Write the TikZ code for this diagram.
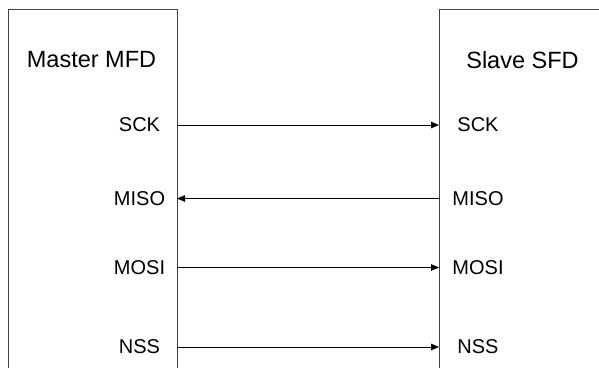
\documentclass[tikz,border=0pt]{standalone}
\usepackage{fontspec}
\setmainfont{Liberation Sans}
\usetikzlibrary{arrows.meta}

\begin{document}
\begin{tikzpicture}[x=1pt,y=-1pt]
\tikzset{
  devbox/.style={draw=black!75,line width=0.8pt,rectangle,anchor=north west,inner sep=0pt,outer sep=0pt},
  devtitle/.style={font=\fontsize{23.5}{27}\selectfont,inner sep=0pt},
  pinlabel/.style={font=\fontsize{20}{23}\selectfont,inner sep=0pt},
  signal/.style={-{Triangle[length=8pt,width=6.5pt]},line width=0.8pt}
}
\useasboundingbox (0,0) rectangle (599,367);
% devices (open below the page edge)
\node[devbox,minimum width=169pt,minimum height=420pt] (n_mfd) at (8,9) {};
\node[devbox,minimum width=220pt,minimum height=420pt] (n_sfd) at (439,9) {};
\node[devtitle] (n_mfd_t) at (91.5,60) {Master MFD};
\node[devtitle] (n_sfd_t) at (522.5,60) {Slave SFD};
% pins on the master side
\node[pinlabel] (n_m_sck) at (139.5,125) {SCK};
\node[pinlabel] (n_m_miso) at (139.5,198.5) {MISO};
\node[pinlabel] (n_m_mosi) at (139.5,267.5) {MOSI};
\node[pinlabel] (n_m_nss) at (139.5,347) {NSS};
% pins on the slave side
\node[pinlabel] (n_s_sck) at (478,125) {SCK};
\node[pinlabel] (n_s_miso) at (478,198.5) {MISO};
\node[pinlabel] (n_s_mosi) at (478,267.5) {MOSI};
\node[pinlabel] (n_s_nss) at (478,347) {NSS};
% signals
\draw[signal] (n_mfd.east |- n_m_sck) -- (n_sfd.west |- n_s_sck);
\draw[signal] (n_sfd.west |- n_s_miso) -- (n_mfd.east |- n_m_miso);
\draw[signal] (n_mfd.east |- n_m_mosi) -- (n_sfd.west |- n_s_mosi);
\draw[signal] (n_mfd.east |- n_m_nss) -- (n_sfd.west |- n_s_nss);
\end{tikzpicture}
\end{document}
